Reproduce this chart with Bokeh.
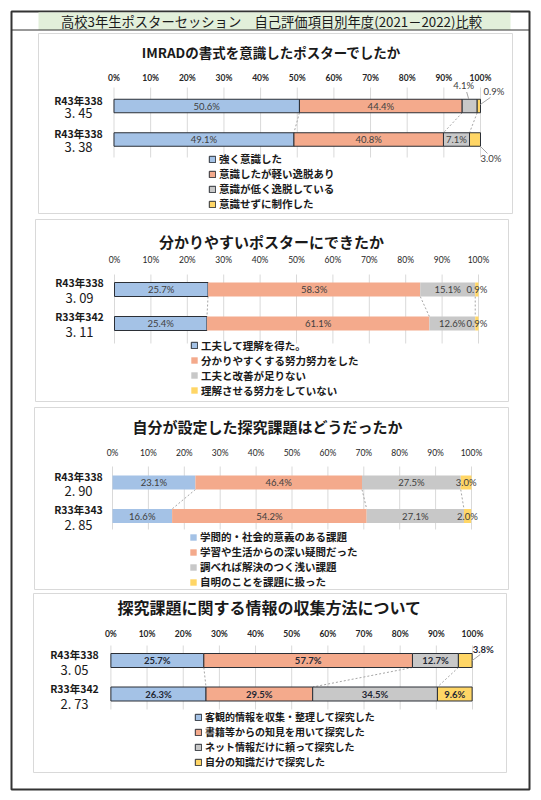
from bokeh.plotting import figure
from bokeh.models import (Range1d, LinearAxis, FixedTicker, PrintfTickFormatter,
                          ColumnDataSource, Legend, LegendItem)
from bokeh.core.properties import value
from bokeh.embed import file_html
from bokeh.resources import INLINE

# ---------------- data ----------------
MAIN_TITLE = "高校3年生ポスターセッション　自己評価項目別年度(2021－2022)比較"
TICKS = [0, 10, 20, 30, 40, 50, 60, 70, 80, 90, 100]

P1_TITLE = "IMRADの書式を意識したポスターでしたか"
P1_ROWS = ["R43年338", "R43年338"]
P1_SCORES = ["3. 45", "3. 38"]
P1_SERIES = ["強く意識した", "意識したが軽い逸脱あり", "意識が低く逸脱している", "意識せずに制作した"]
P1_TOP = [50.6, 44.4, 4.1, 0.9]
P1_BOTTOM = [49.1, 40.8, 7.1, 3.0]

P2_TITLE = "分かりやすいポスターにできたか"
P2_ROWS = ["R43年338", "R33年342"]
P2_SCORES = ["3. 09", "3. 11"]
P2_SERIES = ["工夫して理解を得た。", "分かりやすくする努力努力をした", "工夫と改善が足りない", "理解させる努力をしていない"]
P2_TOP = [25.7, 58.3, 15.1, 0.9]
P2_BOTTOM = [25.4, 61.1, 12.6, 0.9]

P3_TITLE = "自分が設定した探究課題はどうだったか"
P3_ROWS = ["R43年338", "R33年343"]
P3_SCORES = ["2. 90", "2. 85"]
P3_SERIES = ["学問的・社会的意義のある課題", "学習や生活からの深い疑問だった", "調べれば解決のつく浅い課題", "自明のことを課題に扱った"]
P3_TOP = [23.1, 46.4, 27.5, 3.0]
P3_BOTTOM = [16.6, 54.2, 27.1, 2.0]

P4_TITLE = "探究課題に関する情報の収集方法について"
P4_ROWS = ["R43年338", "R33年342"]
P4_SCORES = ["3. 05", "2. 73"]
P4_SERIES = ["客観的情報を収集・整理して探究した", "書籍等からの知見を用いて探究した", "ネット情報だけに頼って探究した", "自分の知識だけで探究した"]
P4_TOP = [25.7, 57.7, 12.7, 3.8]
P4_BOTTOM = [26.3, 29.5, 34.5, 9.6]

# ---------------- style / layout ----------------
COLORS = ["#A4C2E6", "#F4AA8C", "#C8C8C8", "#FFD666"]
DARK = "#2B2F36"
CJK = "Noto Sans CJK JP"
NUM = "Lato"
W, H = 536, 795   # canvas size; canvas pixel == page pixel

STYLES = [
    dict(box=(38, 512, 33, 213), title=(271, 51, 13.5), x0=113.5, x100=480, grid=(87, 157),
         bars=(105.5, 139), bar_h=13.5, label_x=78, l1dy=-6, l2dy=6.5, tick_c=77,
         legend=(208, 161, 14.3, 10.5), tick_bold=True, outline=[DARK, DARK, DARK, DARK],
         dl_bold=False, dl_color="#404040", dl_size=9.5,
         outside={(0, 2): (-6, -20.5, (-3, -14, -1, -7)),
                  (0, 3): (15, -14.5, (1.5, -1.5, 11.5, -8.5)),
                  (1, 3): (16, 19, (5.5, 7, 12.5, 14))}),
    dict(box=(35, 508, 219, 401), title=(271, 241, 15), x0=114, x100=478, grid=(274, 343),
         bars=(289, 323), bar_h=14, label_x=79, l1dy=-7, l2dy=8, tick_c=259,
         legend=(190, 345, 15, 10.5), tick_bold=False, outline=[DARK, None, None, None],
         dl_bold=False, dl_color="#404040", dl_size=9.5, outside={}),
    dict(box=(34, 508, 407, 589), title=(267, 426, 15), x0=112, x100=471, grid=(466, 529),
         bars=(482, 515.5), bar_h=14, label_x=78, l1dy=-6.5, l2dy=8, tick_c=452,
         legend=(189, 539, 14.3, 10.5), tick_bold=False, outline=[None, None, None, None],
         dl_bold=False, dl_color="#404040", dl_size=9.5, outside={}),
    dict(box=(33, 506, 593, 772), title=(269, 606, 16), x0=110.4, x100=472, grid=(645, 709),
         bars=(660, 693.5), bar_h=14, label_x=74, l1dy=-6, l2dy=9, tick_c=633,
         legend=(194, 718, 14.6, 10), tick_bold=True, outline=[DARK, DARK, DARK, DARK],
         dl_bold=True, dl_color="#1F2733", dl_size=9.5,
         outside={(0, 3): (18, -11, (7, 0, 15, -6))}),
]

p = figure(width=W, height=H, x_range=Range1d(0, W), y_range=Range1d(H, 0),
           x_axis_type=None, y_axis_type=None, toolbar_location=None,
           output_backend="svg", min_border=0, outline_line_color=None,
           background_fill_color="white", border_fill_color="white")

# outer frame and heading bar
p.quad(left=[11], right=[529], top=[11], bottom=[789], fill_color=None,
       line_color="#333333", line_width=2)
p.quad(left=[38], right=[510], top=[12], bottom=[29.5], fill_color="#E2EFDA", line_color=None)
p.segment(x0=[11], y0=[29.5], x1=[529], y1=[29.5], line_color="#333333", line_width=1)
p.text(x=[271], y=[21], text=[MAIN_TITLE], text_font=value(CJK), text_font_size=value("13.3px"),
       text_align="center", text_baseline="middle", text_color="#1a1a1a")


def draw_panel(k, title, rows, scores, series, vals_top, vals_bottom, st):
    xr, yr = f"x{k}", f"y{k}"
    x0, x100 = st["x0"], st["x100"]
    ppu = (x100 - x0) / 100.0
    xs = -x0 / ppu
    p.extra_x_ranges[xr] = Range1d(xs, xs + W / ppu)
    c1, c2 = st["bars"]
    d = c2 - c1
    ys = (c2 - H) / d
    p.extra_y_ranges[yr] = Range1d(ys, ys + H / d)

    l, r, t, b = st["box"]
    p.quad(left=[l], right=[r], top=[t], bottom=[b], fill_color="white",
           line_color="#D9D9D9", line_width=1)

    tx, ty, tfs = st["title"]
    p.text(x=[tx], y=[ty], text=[title], text_font=value(CJK), text_font_size=value(f"{tfs}px"),
           text_font_style="bold", text_align="center", text_baseline="middle",
           text_color="#1a1a1a")

    g0, g1 = st["grid"]
    p.segment(x0=TICKS, y0=[g0] * len(TICKS), x1=TICKS, y1=[g1] * len(TICKS),
              x_range_name=xr, line_color="#D9D9D9", line_width=1)

    ax = LinearAxis(x_range_name=xr, fixed_location=g0, ticker=FixedTicker(ticks=TICKS),
                    formatter=PrintfTickFormatter(format="%d%%"))
    ax.axis_line_color = None
    ax.major_tick_line_color = None
    ax.minor_tick_line_color = None
    ax.major_tick_out = 0
    ax.major_tick_in = 0
    ax.major_label_standoff = max(0, int(round(g0 - st["tick_c"] - 5)))
    ax.major_label_text_font = NUM
    ax.major_label_text_font_size = "8.5px"
    ax.major_label_text_font_style = "bold" if st["tick_bold"] else "normal"
    ax.major_label_text_color = "#262626"
    p.add_layout(ax, "above")

    rows_vals = [vals_top, vals_bottom]
    ypos = [1, 0]
    bh = st["bar_h"] / d

    # series lines between the two bars
    sx0 = [sum(vals_top[:j + 1]) for j in range(3)]
    sx1 = [sum(vals_bottom[:j + 1]) for j in range(3)]
    p.segment(x0=sx0, y0=[1 - bh / 2] * 3, x1=sx1, y1=[bh / 2] * 3,
              x_range_name=xr, y_range_name=yr, line_color="#A6A6A6",
              line_dash="2 2", line_width=1)

    renderers = []
    for j, name in enumerate(series):
        lefts = [sum(v[:j]) for v in rows_vals]
        rights = [sum(v[:j + 1]) for v in rows_vals]
        src = ColumnDataSource(dict(y=ypos, left=lefts, right=rights))
        lc = st["outline"][j]
        rr = p.hbar(y="y", left="left", right="right", height=bh, source=src,
                    x_range_name=xr, y_range_name=yr, fill_color=COLORS[j],
                    line_color=lc, line_width=1)
        renderers.append(rr)

    # data labels
    ins = dict(x=[], y=[], t=[])
    for i, v in enumerate(rows_vals):
        for j, val in enumerate(v):
            mid = sum(v[:j]) + val / 2
            lab = f"{val:.1f}%"
            if (i, j) in st["outside"]:
                dx, dy, (a0, b0, a1, b1) = st["outside"][(i, j)]
                p.text(x=[mid], y=[ypos[i]], text=[lab], x_offset=dx, y_offset=dy,
                       x_range_name=xr, y_range_name=yr, text_font=value(NUM),
                       text_font_size=value(f"{st['dl_size']}px"),
                       text_font_style="bold" if st["dl_bold"] else "normal",
                       text_align="center", text_baseline="middle", text_color=st["dl_color"])
                p.segment(x0=[mid + a0 / ppu], y0=[ypos[i] - b0 / d],
                          x1=[mid + a1 / ppu], y1=[ypos[i] - b1 / d],
                          x_range_name=xr, y_range_name=yr, line_color="#A6A6A6", line_width=1)
            else:
                ins["x"].append(mid)
                ins["y"].append(ypos[i])
                ins["t"].append(lab)
    p.text(x="x", y="y", text="t", source=ColumnDataSource(ins), x_range_name=xr,
           y_range_name=yr, text_font=value(NUM), text_font_size=value(f"{st['dl_size']}px"),
           text_font_style="bold" if st["dl_bold"] else "normal",
           text_align="center", text_baseline="middle", text_color=st["dl_color"])

    # category labels (two lines)
    p.text(x=[0, 0], y=ypos, text=rows, x_offset=st["label_x"] - x0, y_offset=st["l1dy"],
           x_range_name=xr, y_range_name=yr, text_font=value(CJK),
           text_font_size=value("10.5px"), text_font_style="bold",
           text_align="center", text_baseline="middle", text_color="#1a1a1a")
    p.text(x=[0, 0], y=ypos, text=scores, x_offset=st["label_x"] - x0, y_offset=st["l2dy"],
           x_range_name=xr, y_range_name=yr, text_font=value(CJK),
           text_font_size=value("13px"), text_align="center", text_baseline="middle",
           text_color="#1a1a1a")

    lx, first_c, pitch, lfs = st["legend"]
    bottom_page = first_c - pitch / 2 + 4 * pitch
    leg = Legend(items=[LegendItem(label=value(s), renderers=[rr]) for s, rr in zip(series, renderers)],
                 location=(lx, H - bottom_page), orientation="vertical",
                 padding=0, spacing=0, margin=0, glyph_width=8, glyph_height=8,
                 label_standoff=3, label_height=int(round(pitch)),
                 label_text_font=CJK, label_text_font_size=f"{lfs}px",
                 label_text_font_style="bold", label_text_color="#1a1a1a",
                 border_line_color=None, background_fill_alpha=0)
    p.add_layout(leg, "center")


draw_panel(1, P1_TITLE, P1_ROWS, P1_SCORES, P1_SERIES, P1_TOP, P1_BOTTOM, STYLES[0])
draw_panel(2, P2_TITLE, P2_ROWS, P2_SCORES, P2_SERIES, P2_TOP, P2_BOTTOM, STYLES[1])
draw_panel(3, P3_TITLE, P3_ROWS, P3_SCORES, P3_SERIES, P3_TOP, P3_BOTTOM, STYLES[2])
draw_panel(4, P4_TITLE, P4_ROWS, P4_SCORES, P4_SERIES, P4_TOP, P4_BOTTOM, STYLES[3])

open("out.html", "w", encoding="utf-8").write(file_html(p, INLINE, title="poster session"))
